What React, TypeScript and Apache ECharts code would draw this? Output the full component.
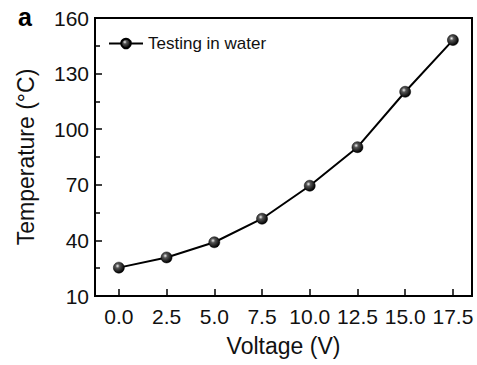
import React, { useEffect, useRef } from "react";
import * as echarts from "echarts";

// Heating curve: temperature reached at each applied voltage
const voltages = [0, 2.5, 5, 7.5, 10, 12.5, 15, 17.5];
const temperatures = [25.3, 30.8, 39, 51.7, 69.5, 90.3, 120.2, 148.1];
const xTickValues = [0, 2.5, 5, 7.5, 10, 12.5, 15, 17.5];
const yTickValues = [10, 40, 70, 100, 130, 160];
const yMinorTickValues = [25, 55, 85, 115, 145];
const seriesName = "Testing in water";

const FONT = "'Liberation Sans', Arial, Helvetica, sans-serif";
const WIDTH = 477;
const HEIGHT = 365;
const GRID_LEFT = 95;
const GRID_RIGHT = 5;

export default function App() {
  const ref = useRef<HTMLDivElement>(null);

  useEffect(() => {
    if (!ref.current) return;
    const chart = echarts.init(ref.current, null, { renderer: "svg" });

    const ball = {
      type: "radial",
      x: 0.38,
      y: 0.35,
      r: 0.65,
      colorStops: [
        { offset: 0, color: "#f2f2f2" },
        { offset: 0.3, color: "#555" },
        { offset: 1, color: "#000" },
      ],
    };

    chart.setOption({
      animation: false,
      backgroundColor: "#fff",
      textStyle: { fontFamily: FONT },
      grid: {
        left: GRID_LEFT,
        right: GRID_RIGHT,
        top: 18,
        bottom: 69,
        show: true,
        borderColor: "#000",
        borderWidth: 2,
        backgroundColor: "transparent",
      },
      legend: {
        left: 103,
        top: 30,
        itemWidth: 34,
        itemHeight: 12,
        itemGap: 2,
        textStyle: { fontFamily: FONT, fontSize: 17, color: "#111" },
        data: [seriesName],
      },
      graphic: [
        {
          type: "text",
          left: 18,
          top: 4,
          style: { text: "a", font: `bold 25px ${FONT}`, fill: "#000" },
        },
      ],
      xAxis: {
        type: "value",
        min: -1.25,
        max: 18.5,
        name: "Voltage (V)",
        nameLocation: "middle",
        nameGap: 38,
        nameTextStyle: { fontFamily: FONT, fontSize: 23, color: "#111" },
        axisLine: { show: true, onZero: false, lineStyle: { color: "#000", width: 2 } },
        axisTick: {
          show: true,
          inside: true,
          length: 7,
          lineStyle: { color: "#000", width: 1.5 },
          customValues: xTickValues,
        },
        axisLabel: {
          color: "#111",
          fontSize: 21,
          fontFamily: FONT,
          margin: 10,
          customValues: xTickValues,
          formatter: (v: number) => v.toFixed(1),
        },
        splitLine: { show: false },
      },
      yAxis: [
        {
          type: "value",
          position: "left",
          min: 10,
          max: 160,
          name: "Temperature (°C)",
          nameLocation: "middle",
          nameGap: 58,
          nameTextStyle: { fontFamily: FONT, fontSize: 23, color: "#111" },
          axisLine: { show: true, onZero: false, lineStyle: { color: "#000", width: 2 } },
          axisTick: {
            show: true,
            inside: true,
            length: 7,
            lineStyle: { color: "#000", width: 1.5 },
            customValues: yTickValues,
          },
          axisLabel: {
            color: "#111",
            fontSize: 21,
            fontFamily: FONT,
            margin: 6,
            customValues: yTickValues,
          },
          splitLine: { show: false },
        },
        {
          // minor ticks on the left spine
          type: "value",
          position: "left",
          offset: 0,
          min: 10,
          max: 160,
          axisLine: { show: true, onZero: false, lineStyle: { color: "#000", width: 2 } },
          axisTick: {
            show: true,
            inside: true,
            length: 5,
            lineStyle: { color: "#000", width: 1.5 },
            customValues: yMinorTickValues,
          },
          axisLabel: { show: false },
          splitLine: { show: false },
        },
      ],
      series: [
        {
          name: seriesName,
          type: "line",
          yAxisIndex: 0,
          data: voltages.map((v, i) => [v, temperatures[i]]),
          symbol: "circle",
          symbolSize: 11,
          lineStyle: { color: "#000", width: 2 },
          itemStyle: { color: ball, borderColor: "#000", borderWidth: 0.5 },
        },
      ],
    });

    return () => chart.dispose();
  }, []);

  return (
    <div
      ref={ref}
      style={{ position: "fixed", left: 0, top: 0, width: WIDTH, height: HEIGHT }}
    />
  );
}
